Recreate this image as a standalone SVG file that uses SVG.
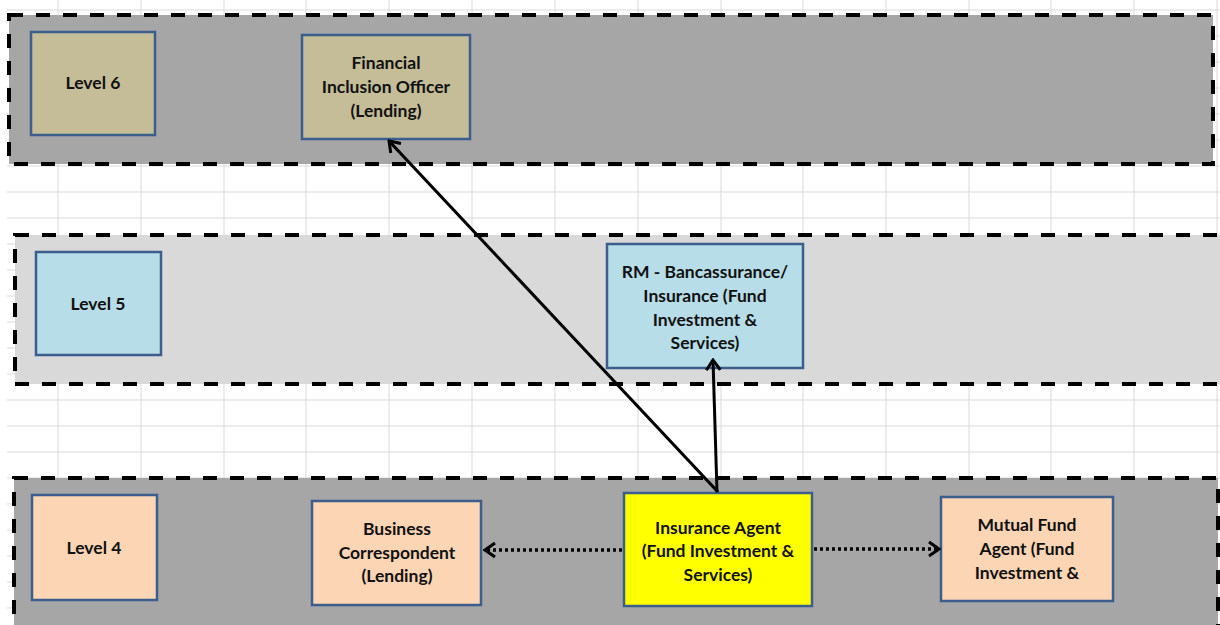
<svg xmlns="http://www.w3.org/2000/svg" width="1220" height="625" viewBox="0 0 1220 625">
<style>
.grid line{stroke:#d9d9d9;stroke-width:1}
.band{stroke:#000;stroke-width:4;stroke-dasharray:14 13}
.box{stroke:#3b5e8c;stroke-width:2.5}
.t{font-family:Lato,"Open Sans","Liberation Sans",sans-serif;font-weight:bold;font-size:17.5px;fill:#111;text-anchor:middle}
.solid{stroke:#000;stroke-width:3;fill:none}
.dot{stroke:#000;stroke-width:3.5;fill:none;stroke-dasharray:3 3}
</style>
<defs>
<marker id="ah" markerUnits="userSpaceOnUse" viewBox="-14 -9 16 18" markerWidth="16" markerHeight="18" refX="0" refY="0" orient="auto">
<path d="M-10,-7 L0,0 L-10,7" fill="none" stroke="#000" stroke-width="3" stroke-dasharray="none"/>
</marker>
</defs>
<rect width="1220" height="625" fill="#fff"/>
<g class="grid">
<line x1="58" y1="0" x2="58" y2="625"/><line x1="141" y1="0" x2="141" y2="625"/><line x1="224" y1="0" x2="224" y2="625"/><line x1="306" y1="0" x2="306" y2="625"/><line x1="389" y1="0" x2="389" y2="625"/><line x1="472" y1="0" x2="472" y2="625"/><line x1="555" y1="0" x2="555" y2="625"/><line x1="638" y1="0" x2="638" y2="625"/><line x1="721" y1="0" x2="721" y2="625"/><line x1="803" y1="0" x2="803" y2="625"/><line x1="886" y1="0" x2="886" y2="625"/><line x1="969" y1="0" x2="969" y2="625"/><line x1="1051" y1="0" x2="1051" y2="625"/><line x1="1134" y1="0" x2="1134" y2="625"/><line x1="1217" y1="0" x2="1217" y2="625"/>
<line x1="7" y1="10" x2="1220" y2="10"/><line x1="7" y1="36" x2="1220" y2="36"/><line x1="7" y1="62" x2="1220" y2="62"/><line x1="7" y1="88" x2="1220" y2="88"/><line x1="7" y1="114" x2="1220" y2="114"/><line x1="7" y1="140" x2="1220" y2="140"/><line x1="7" y1="166" x2="1220" y2="166"/><line x1="7" y1="192" x2="1220" y2="192"/><line x1="7" y1="218" x2="1220" y2="218"/><line x1="7" y1="244" x2="1220" y2="244"/><line x1="7" y1="270" x2="1220" y2="270"/><line x1="7" y1="296" x2="1220" y2="296"/><line x1="7" y1="322" x2="1220" y2="322"/><line x1="7" y1="348" x2="1220" y2="348"/><line x1="7" y1="374" x2="1220" y2="374"/><line x1="7" y1="400" x2="1220" y2="400"/><line x1="7" y1="426" x2="1220" y2="426"/><line x1="7" y1="452" x2="1220" y2="452"/><line x1="7" y1="478" x2="1220" y2="478"/><line x1="7" y1="504" x2="1220" y2="504"/><line x1="7" y1="530" x2="1220" y2="530"/><line x1="7" y1="556" x2="1220" y2="556"/><line x1="7" y1="582" x2="1220" y2="582"/><line x1="7" y1="608" x2="1220" y2="608"/>
</g>
<g id="band6"><rect class="band" x="9" y="15" width="1204" height="149" fill="#a6a6a6"/></g>
<g id="band5"><rect class="band" x="15" y="235" width="1215" height="149" fill="#d9d9d9"/></g>
<g id="band4"><rect class="band" x="14" y="478" width="1204" height="160" fill="#a6a6a6"/></g>
<g id="level6"><rect class="box" x="31" y="32" width="124" height="103" fill="#c4bd97"/><text class="t" x="93" y="89">Level 6</text></g>
<g id="fio"><rect class="box" x="302" y="35" width="168" height="104" fill="#c4bd97"/><text class="t" x="386" y="69">Financial</text><text class="t" x="386" y="93">Inclusion Officer</text><text class="t" x="386" y="117">(Lending)</text></g>
<g id="level5"><rect class="box" x="36" y="252" width="125" height="103" fill="#b7dde8"/><text class="t" x="98" y="310">Level 5</text></g>
<g id="rm"><rect class="box" x="607" y="244" width="196" height="124" fill="#b7dde8"/><text class="t" x="705" y="278">RM - Bancassurance/</text><text class="t" x="705" y="302">Insurance (Fund</text><text class="t" x="705" y="326">Investment &amp;</text><text class="t" x="705" y="349">Services)</text></g>
<g id="level4"><rect class="box" x="32" y="495" width="125" height="105" fill="#fcd5b5"/><text class="t" x="94" y="554">Level 4</text></g>
<g id="bc"><rect class="box" x="312" y="501" width="169" height="104" fill="#fcd5b5"/><text class="t" x="397" y="535">Business</text><text class="t" x="397" y="559">Correspondent</text><text class="t" x="397" y="582">(Lending)</text></g>
<g id="ia"><rect class="box" x="624" y="493" width="188" height="113" fill="#ffff00"/><text class="t" x="718" y="534">Insurance Agent</text><text class="t" x="718" y="557">(Fund Investment &amp;</text><text class="t" x="718" y="581">Services)</text></g>
<g id="mf"><rect class="box" x="941" y="497" width="172" height="104" fill="#fcd5b5"/><text class="t" x="1027" y="531">Mutual Fund</text><text class="t" x="1027" y="555">Agent (Fund</text><text class="t" x="1027" y="579">Investment &amp;</text></g>
<g id="connectors">
<line class="solid" x1="718" y1="492" x2="389" y2="141" marker-end="url(#ah)"/>
<line class="solid" x1="717" y1="492" x2="713" y2="360" marker-end="url(#ah)"/>
<line class="dot" x1="622" y1="550" x2="485" y2="550" marker-end="url(#ah)"/>
<line class="dot" x1="814" y1="549" x2="939" y2="549" marker-end="url(#ah)"/>
</g>
</svg>
